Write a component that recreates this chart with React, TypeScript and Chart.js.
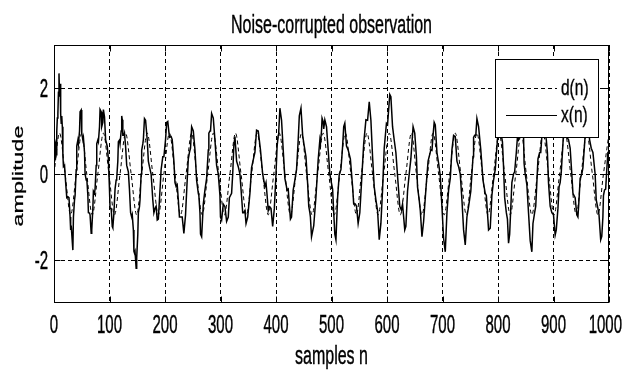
import React, { useEffect, useRef } from "react";
import { Chart, registerables } from "chart.js";

Chart.register(...registerables);

// ---------- text ----------
const titleText = "Noise-corrupted observation";
const xAxisTitle = "samples n";
const yAxisTitle = "amplitude";
const dLabel = "d(n)";
const xLabel = "x(n)";

// ---------- axes ----------
const xTicks = [0, 100, 200, 300, 400, 500, 600, 700, 800, 900, 1000];
const yTicks = [-2, 0, 2];
const xMin = 0;
const xMax = 1000;
const yMin = -3;
const yMax = 3;

// ---------- d(n): clean tone, read at its peaks, troughs and zero crossings ----------
const dN = [
  0, 10, 20, 30, 40, 50, 59, 69, 79, 89, 99, 109, 119, 129, 139, 149, 158, 168, 178, 188,
  198, 208, 218, 228, 238, 248, 257, 267, 277, 287, 297, 307, 317, 327, 337, 347, 356, 366, 376, 386,
  396, 406, 416, 426, 436, 446, 455, 465, 475, 485, 495, 505, 515, 525, 535, 545, 554, 564, 574, 584,
  594, 604, 614, 624, 634, 644, 653, 663, 673, 683, 693, 703, 713, 723, 733, 743, 752, 762, 772, 782,
  792, 802, 812, 822, 832, 842, 851, 861, 871, 881, 891, 901, 911, 921, 931, 941, 950, 960, 970, 980,
  990, 1000,
];
const dV = [
  0, 0.95, 0, -0.95, 0, 0.95, 0, -0.95, 0, 0.95, 0, -0.95, 0, 0.95, 0, -0.95, 0, 0.95, 0, -0.95,
  0, 0.95, 0, -0.95, 0, 0.95, 0, -0.95, 0, 0.95, 0, -0.95, 0, 0.95, 0, -0.95, 0, 0.95, 0, -0.95,
  0, 0.95, 0, -0.95, 0, 0.95, 0, -0.95, 0, 0.95, 0, -0.95, 0, 0.95, 0, -0.95, 0, 0.95, 0, -0.95,
  0, 0.95, 0, -0.95, 0, 0.95, 0, -0.95, 0, 0.95, 0, -0.95, 0, 0.95, 0, -0.95, 0, 0.95, 0, -0.95,
  0, 0.95, 0, -0.95, 0, 0.95, 0, -0.95, 0, 0.95, 0, -0.95, 0, 0.95, 0, -0.95, 0, 0.95, 0, -0.95,
  0, 0.95,
];

// ---------- x(n): noisy observation ----------
const xN = [
  0, 1, 2, 3, 4, 5, 6, 7, 8, 9,
  10, 11, 12, 13, 14, 15, 16, 17, 19, 21,
  23, 25, 27, 29, 30, 31, 32, 34, 35, 37,
  38, 40, 41, 43, 44, 46, 47, 49, 50, 52,
  53, 55, 56, 58, 59, 61, 62, 64, 65, 67,
  68, 70, 71, 73, 74, 76, 77, 79, 80, 82,
  83, 85, 86, 88, 89, 91, 93, 96, 98, 100,
  101, 103, 104, 105, 106, 108, 110, 112, 113, 115,
  116, 118, 119, 121, 122, 123, 124, 126, 127, 129,
  131, 133, 134, 136, 138, 140, 141, 143, 144, 145,
  146, 148, 149, 151, 152, 154, 155, 157, 158, 160,
  161, 163, 165, 168, 170, 172, 175, 178, 180, 182,
  184, 186, 188, 190, 193, 196, 198, 201, 203, 205,
  208, 211, 213, 216, 218, 220, 222, 224, 226, 228,
  231, 234, 237, 240, 242, 244, 246, 248, 251, 254,
  257, 260, 261, 263, 264, 266, 269, 272, 275, 278,
  279, 281, 282, 284, 287, 290, 293, 296, 297, 299,
  300, 302, 305, 308, 311, 314, 316, 318, 320, 322,
  324, 326, 329, 332, 335, 338, 340, 342, 344, 346,
  349, 353, 356, 359, 362, 365, 368, 372, 376, 380,
  382, 384, 386, 388, 391, 394, 397, 400, 402, 404,
  405, 407, 410, 413, 416, 420, 422, 424, 426, 428,
  431, 434, 437, 440, 442, 445, 448, 451, 454, 457,
  459, 461, 462, 464, 468, 472, 476, 479, 480, 482,
  483, 485, 486, 488, 491, 494, 497, 500, 502, 504,
  506, 508, 511, 514, 517, 520, 522, 524, 527, 530,
  534, 538, 540, 543, 545, 548, 551, 554, 558, 562,
  565, 568, 571, 574, 577, 580, 583, 586, 589, 592,
  595, 599, 601, 603, 605, 607, 610, 613, 616, 620,
  623, 626, 628, 630, 632, 634, 637, 640, 643, 647,
  650, 653, 655, 658, 660, 663, 666, 670, 674, 679,
  681, 683, 685, 687, 690, 693, 696, 699, 702, 705,
  708, 711, 714, 717, 720, 723, 726, 729, 732, 735,
  738, 741, 744, 747, 751, 755, 756, 758, 760, 762,
  765, 769, 773, 777, 779, 781, 783, 786, 789, 792,
  795, 799, 801, 803, 804, 806, 808, 810, 812, 815,
  817, 819, 821, 823, 825, 828, 830, 833, 835, 837,
  840, 842, 844, 846, 847, 849, 852, 855, 858, 861,
  863, 866, 868, 870, 872, 875, 877, 879, 881, 883,
  885, 887, 889, 891, 894, 897, 900, 903, 905, 908,
  910, 912, 914, 917, 919, 922, 924, 927, 930, 933,
  935, 937, 939, 942, 944, 946, 948, 951, 953, 956,
  959, 962, 965, 968, 971, 975, 977, 980, 982, 985,
  987, 989, 990, 992, 994, 996, 998, 1000,
];
const xV = [
  0.35, 0.8, 0.75, 0.4, 0.45, 1.0, 1.3, 1.4, 1.9, 2.34,
  1.8, 2.1, 1.4, 1.18, 1.35, 1.1, 0.45, 0.17, 0.2, -0.2,
  -0.55, -0.53, -0.55, -1.0, -1.3, -1.2, -1.2, -1.77, -1.0, -0.6,
  -0.5, 0.1, 0.65, 0.79, 0.7, 1.0, 1.45, 1.49, 0.95, 0.79,
  0.85, 0.5, 0.0, -0.14, -0.1, -0.5, -0.9, -0.91, -0.95, -1.38,
  -1.3, -0.8, -0.4, -0.45, -0.35, 0.2, 0.7, 0.79, 0.75, 1.1,
  1.5, 1.45, 1.1, 1.2, 1.5, 1.33, 0.8, 0.64, 0.35, -0.37,
  -0.8, -0.8, -0.8, -1.22, -1.25, -0.9, -0.35, -0.14, -0.1, 0.3,
  0.75, 0.79, 0.7, 1.0, 1.35, 1.26, 0.9, 0.9, 0.95, 0.64,
  0.2, 0.1, 0.05, -0.37, -0.9, -1.0, -0.95, -1.3, -1.8, -1.84,
  -1.8, -2.19, -1.95, -1.4, -0.9, -0.76, -0.6, 0, 0.55, 0.7,
  0.8, 1.29, 1.25, 0.79, 0.3, 0.17, 0.0, -0.6, -0.9, -0.8,
  -0.75, -1.07, -1.05, -0.6, 0.1, 0.4, 0.4, 0.8, 1.2, 1.22,
  0.85, 0.87, 0.8, 0.3, -0.2, -0.29, -0.25, -0.6, -1.0, -1.0,
  -1.0, -1.38, -0.95, -0.14, 0.35, 0.5, 0.6, 1.1, 1.0, 0.56,
  -0.15, -0.45, -0.5, -0.9, -1.4, -1.46, -0.7, -0.37, -0.1, 0.56,
  0.95, 1.0, 1.0, 1.41, 1.3, 0.79, 0.2, 0, 0.0, -0.5,
  -1.0, -1.07, -0.7, -0.76, -1.1, -1.0, -0.55, -0.5, -0.45, 0,
  0.65, 0.87, 0.3, 0.17, 0.0, -0.53, -0.9, -0.9, -0.85, -1.15,
  -1.0, -0.45, 0.15, 0.33, 0.5, 1.02, 1.0, 0.56, 0.0, -0.29,
  -0.2, -0.5, -0.85, -0.76, -0.8, -1.22, -0.8, 0, 0.65, 0.9,
  1.0, 1.53, 1.25, 0.56, -0.1, -0.37, -0.35, -0.7, -1.05, -1.0,
  -0.37, -0.14, 0.1, 0.79, 1.35, 1.53, 0.9, 0.64, 0.4, -0.22,
  -0.75, -0.9, -1.0, -1.46, -1.2, -0.53, 0.33, 0.79, 0.7, 1.0,
  1.3, 1.22, 1.05, 1.26, 1.1, 0.56, 0.0, -0.22, -0.35, -0.9,
  -1.4, -1.53, -0.55, 0, 0.1, 0.64, 1.1, 1.18, 0.65, 0.56,
  0.35, -0.29, -0.7, -0.7, -0.75, -1.15, -0.9, -0.22, 0.7, 1.26,
  1.25, 1.68, 1.25, 0.4, -0.3, -0.6, -0.85, -1.53, -1.15, -0.37,
  0.6, 1.18, 1.15, 1.5, 1.85, 1.8, 1.1, 0.79, 0.5, -0.22,
  -0.75, -0.84, -0.7, -1.0, -1.3, -1.22, -0.4, 0, 0.35, 1.1,
  0.95, 0.4, -0.3, -0.6, -0.85, -1.46, -1.1, -0.37, 0.3, 0.56,
  0.55, 0.9, 1.2, 1.14, 0.5, 0.25, -0.05, -0.76, -1.5, -1.81,
  -0.9, -0.37, -0.1, 0.56, 0.9, 0.87, 0.3, 0.17, 0.0, -0.6,
  -1.3, -1.65, -1.0, -0.76, -0.4, 0.4, 0.85, 0.9, 0.9, 1.29,
  1.1, 0.56, -0.15, -0.45, -0.5, -0.9, -1.3, -1.26, -0.5, -0.14,
  0.1, 0.79, 1.25, 1.35, 0.9, 0.9, 0.75, 0.17, -0.55, -0.9,
  -1.05, -1.61, -1.4, -0.8, -0.2, 0, 0.05, 0.5, 0.85, 0.79,
  0.9, 1.4, 1.35, 0.9, 0.25, 0, -0.25, -0.9, -1.55, -1.81,
  -1.15, -0.9, -0.75, -0.2, 0.35, 0.5, 0.5, 0.87, 1.35, 1.45,
  0.95, 0.8, 0.5, -0.2, -0.75, -0.9, -0.95, -1.42, -1.3, -0.8,
  -0.3, -0.2, 0.05, 0.7, 1.2, 1.3, 0.85, 0.8, 0.6, 0,
  -0.45, -0.5, -0.55, -0.95, -1.0, -0.6, -0.1, 0, 0.15, 0.7,
  1.25, 1.4, 0.8, 0.6, 0.5, 0, -0.6, -0.8, -0.95, -1.53,
  -1.45, -1.0, -0.5, -0.37, -0.35, 0.1, 0.5, 0.5,
];

const FONT = '"Liberation Sans", Arial, Helvetica, sans-serif';
const TEXT_COLOR = "#000";
const STRETCH = 1.7;

function drawText(
  ctx: CanvasRenderingContext2D,
  text: string,
  x: number,
  y: number,
  size: number,
  align: CanvasTextAlign,
  stretch: number,
  vertical = false
) {
  ctx.save();
  ctx.font = `${size}px ${FONT}`;
  ctx.fillStyle = TEXT_COLOR;
  ctx.strokeStyle = TEXT_COLOR;
  ctx.lineWidth = 0.25;
  ctx.textAlign = align;
  ctx.textBaseline = "alphabetic";
  ctx.translate(x, y);
  if (vertical) {
    ctx.rotate(-Math.PI / 2);
    ctx.scale(stretch, 1);
  } else {
    ctx.scale(1, stretch);
  }
  ctx.fillText(text, 0, 0);
  ctx.strokeText(text, 0, 0);
  ctx.restore();
}

const matlabPlugin = {
  id: "matlabDecor",
  beforeDraw(chart: any) {
    const ctx = chart.ctx as CanvasRenderingContext2D;
    ctx.save();
    ctx.fillStyle = "#ffffff";
    ctx.fillRect(0, 0, chart.width, chart.height);
    ctx.restore();
  },
  afterDraw(chart: any) {
    const ctx = chart.ctx as CanvasRenderingContext2D;
    const a = chart.chartArea;
    const xs = chart.scales.x;
    const ys = chart.scales.y;
    const L = Math.round(a.left) + 0.5;
    const R = Math.round(a.right) - 0.5;
    const T = Math.round(a.top) + 0.5;
    const B = Math.round(a.bottom) - 0.5;

    // frame + inward tick marks
    ctx.save();
    ctx.strokeStyle = "#000";
    ctx.lineWidth = 1;
    ctx.setLineDash([]);
    ctx.strokeRect(L, T, R - L, B - T);
    ctx.beginPath();
    const tl = 6;
    xs.ticks.forEach((t: any) => {
      const px = Math.round(xs.getPixelForValue(t.value)) + 0.5;
      ctx.moveTo(px, T);
      ctx.lineTo(px, T + tl);
      ctx.moveTo(px, B);
      ctx.lineTo(px, B - tl);
    });
    ys.ticks.forEach((t: any) => {
      const py = Math.round(ys.getPixelForValue(t.value)) + 0.5;
      ctx.moveTo(L, py);
      ctx.lineTo(L + tl, py);
      ctx.moveTo(R, py);
      ctx.lineTo(R - tl, py);
    });
    ctx.stroke();
    ctx.restore();

    // tick labels (kept inside the page on the right)
    ctx.save();
    ctx.font = `15px ${FONT}`;
    xs.ticks.forEach((t: any) => {
      const label = String(t.value);
      const w = ctx.measureText(label).width;
      let px = xs.getPixelForValue(t.value);
      if (px + w / 2 > chart.width - 2) px = chart.width - 2 - w / 2;
      drawText(ctx, label, px, 333, 15, "center", STRETCH);
    });
    ctx.restore();
    ys.ticks.forEach((t: any) => {
      drawText(ctx, String(t.value), 48, ys.getPixelForValue(t.value) + 9, 15, "right", STRETCH);
    });

    // titles
    const cx = (a.left + a.right) / 2;
    drawText(ctx, titleText, cx, 32.5, 16, "center", 1.62);
    drawText(ctx, xAxisTitle, cx, 364, 16, "center", 1.62);
    drawText(ctx, yAxisTitle, 23, (a.top + a.bottom) / 2 + 2, 15.5, "center", 1.5, true);

    // legend box
    const lx0 = 495.5;
    const lx1 = 598.5;
    const ly0 = 59.5;
    const ly1 = 137.5;
    ctx.save();
    ctx.fillStyle = "#ffffff";
    ctx.fillRect(lx0, ly0, lx1 - lx0, ly1 - ly0);
    ctx.strokeStyle = "#000";
    ctx.lineWidth = 1;
    ctx.strokeRect(lx0, ly0, lx1 - lx0, ly1 - ly0);
    const dsD = chart.data.datasets.find((d: any) => d.label === dLabel);
    const dsX = chart.data.datasets.find((d: any) => d.label === xLabel);
    const rows = [
      { ds: dsD, y: 88.5 },
      { ds: dsX, y: 115.5 },
    ];
    rows.forEach((r) => {
      ctx.beginPath();
      ctx.setLineDash(r.ds.borderDash || []);
      ctx.strokeStyle = r.ds.borderColor;
      ctx.lineWidth = 1;
      ctx.moveTo(506, r.y);
      ctx.lineTo(557, r.y);
      ctx.stroke();
    });
    ctx.restore();
    rows.forEach((r) => {
      drawText(ctx, r.ds.label, 561, r.y + 6, 15.5, "left", 1.4);
    });
  },
};

export default function App() {
  const canvasRef = useRef<HTMLCanvasElement | null>(null);

  useEffect(() => {
    const canvas = canvasRef.current;
    if (!canvas) return;
    const xPoints = xN.map((n, i) => ({ x: n, y: xV[i] }));
    const dPoints = dN.map((n, i) => ({ x: n, y: dV[i] }));

    const chart = new Chart(canvas, {
      type: "line",
      data: {
        datasets: [
          {
            label: xLabel,
            data: xPoints,
            borderColor: "#000000",
            borderWidth: 1.5,
            pointRadius: 0,
            tension: 0,
            fill: false,
          },
          {
            label: dLabel,
            data: dPoints,
            borderColor: "#000000",
            borderWidth: 1,
            borderDash: [4, 3],
            pointRadius: 0,
            cubicInterpolationMode: "monotone",
            fill: false,
          },
        ],
      },
      options: {
        animation: false,
        responsive: false,
        devicePixelRatio: 1,
        layout: { padding: { left: 54, right: 15, top: 45, bottom: 67 } },
        plugins: {
          legend: { display: false },
          title: { display: false },
          tooltip: { enabled: false },
        },
        scales: {
          x: {
            type: "linear",
            min: xMin,
            max: xMax,
            afterBuildTicks: (axis: any) => {
              axis.ticks = xTicks.map((v) => ({ value: v }));
            },
            ticks: { display: false },
            grid: { color: "#000", lineWidth: 1, drawTicks: false },
            border: { display: false, dash: [4, 3] },
            title: { display: false },
          },
          y: {
            type: "linear",
            min: yMin,
            max: yMax,
            afterBuildTicks: (axis: any) => {
              axis.ticks = yTicks.map((v) => ({ value: v }));
            },
            ticks: { display: false },
            grid: { color: "#000", lineWidth: 1, drawTicks: false },
            border: { display: false, dash: [4, 3] },
            title: { display: false },
          },
        },
      },
      plugins: [matlabPlugin],
    } as any);

    return () => chart.destroy();
  }, []);

  return (
    <div style={{ position: "absolute", left: 0, top: 0, width: 624, height: 370 }}>
      <canvas ref={canvasRef} width={624} height={370} style={{ display: "block" }} />
    </div>
  );
}
